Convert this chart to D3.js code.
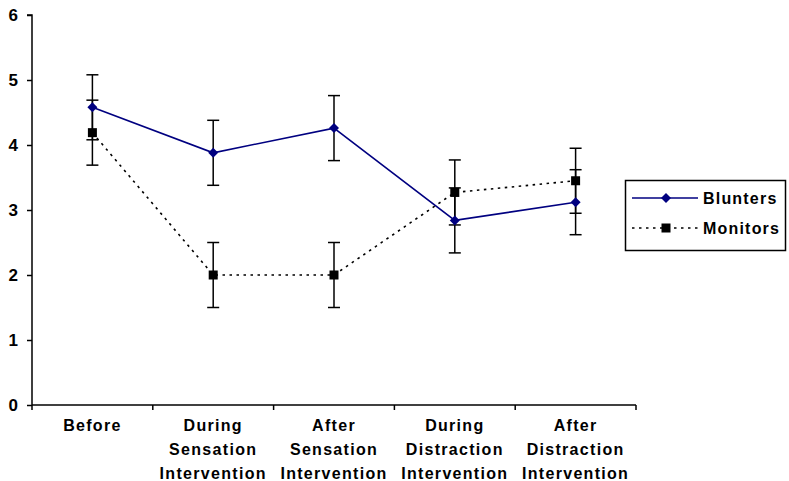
<!DOCTYPE html>
<html><head><meta charset="utf-8">
<script src="https://cdn.jsdelivr.net/npm/d3@7"></script>
<style>body{margin:0;background:#fff;} text{font-family:"Liberation Sans",Arial,sans-serif;font-weight:bold;}</style>
</head><body>
<svg id="c" width="789" height="481"></svg>
<script>
const categories = [["Before"],["During","Sensation","Intervention"],["After","Sensation","Intervention"],["During","Distraction","Intervention"],["After","Distraction","Intervention"]];
const blunters = [4.58, 3.88, 4.26, 2.84, 3.12];
const monitors = [4.19, 2.00, 2.00, 3.27, 3.45];
const errBlunters = [0.5, 0.5, 0.5, 0.5, 0.5];
const errMonitors = [0.5, 0.5, 0.5, 0.5, 0.5];
const yTicks = [0,1,2,3,4,5,6];
const seriesNames = ["Blunters","Monitors"];

(function(){
const svg = d3.select("#c");
const mLeft = 32, mRight = 636, mTop = 15, mBottom = 405;
const idx = categories.map((d,i)=>i);
const x = d3.scaleBand().domain(idx).range([mLeft,mRight]).padding(0);
const xb = d3.scaleLinear().domain([0,categories.length]).range([mLeft,mRight]);
const y = d3.scaleLinear().domain([0,6]).range([mBottom,mTop]);

// y axis
const ya = svg.append("g").attr("transform",`translate(${mLeft},0)`)
  .call(d3.axisLeft(y).tickValues(yTicks).tickSize(5).tickPadding(8).tickFormat(d3.format("d")));
ya.selectAll("text").attr("font-size",17).attr("fill","#000").attr("letter-spacing",1)
  .style("font-family","Liberation Sans, Arial, sans-serif").attr("dy","0.3em");
ya.selectAll("path,line").attr("stroke","#000").attr("stroke-width",1.5);
ya.select(".domain").attr("d",`M-5,${mTop}H0V${mBottom}`);

// x axis
const xa = svg.append("g").attr("transform",`translate(0,${mBottom})`);
xa.append("line").attr("x1",mLeft).attr("x2",mRight).attr("y1",0).attr("y2",0).attr("stroke","#000").attr("stroke-width",1.5);
xa.selectAll(".tk").data(d3.range(categories.length+1)).join("line")
  .attr("x1",d=>xb(d)).attr("x2",d=>xb(d)).attr("y1",0).attr("y2",5).attr("stroke","#000").attr("stroke-width",1.5);
const lab = xa.selectAll(".lab").data(categories).join("text")
  .attr("text-anchor","middle").attr("font-size",16).attr("letter-spacing",1.3).attr("fill","#000")
  .attr("transform",(d,i)=>`translate(${x(i)+x.bandwidth()/2},0)`);
lab.selectAll("tspan").data(d=>d).join("tspan").attr("x",0).attr("y",(d,j)=>26+j*24).text(d=>d);

const cx = i => x(i)+x.bandwidth()/2;

// error bars
function errbars(vals, errs){
  const g = svg.append("g").attr("stroke","#000").attr("stroke-width",1.5);
  vals.forEach((v,i)=>{
    g.append("line").attr("x1",cx(i)).attr("x2",cx(i)).attr("y1",y(v-errs[i])).attr("y2",y(v+errs[i]));
    [v-errs[i], v+errs[i]].forEach(e=>{
      g.append("line").attr("x1",cx(i)-6).attr("x2",cx(i)+6).attr("y1",y(e)).attr("y2",y(e));
    });
  });
}
errbars(blunters, errBlunters);
errbars(monitors, errMonitors);

const line = d3.line().x((d,i)=>cx(i)).y(d=>y(d));
svg.append("path").datum(monitors).attr("d",line).attr("fill","none").attr("stroke","#000").attr("stroke-width",1.6).attr("stroke-dasharray","2.5,4.5");
svg.append("path").datum(blunters).attr("d",line).attr("fill","none").attr("stroke","#000080").attr("stroke-width",1.6);

svg.selectAll(".sq").data(monitors).join("rect").attr("x",(d,i)=>cx(i)-4.5).attr("y",d=>y(d)-4.5).attr("width",9).attr("height",9).attr("fill","#000");
svg.selectAll(".dm").data(blunters).join("path").attr("d",d3.symbol().type(d3.symbolSquare).size(50))
  .attr("transform",(d,i)=>`translate(${cx(i)},${y(d)}) rotate(45)`).attr("fill","#000080");

// legend
const lg = svg.append("g");
lg.append("rect").attr("x",625.5).attr("y",180.5).attr("width",160).attr("height",70).attr("fill","#fff").attr("stroke","#000").attr("stroke-width",1.5);
const ly = [198, 228];
lg.append("line").attr("x1",632).attr("x2",698).attr("y1",ly[0]).attr("y2",ly[0]).attr("stroke","#000080").attr("stroke-width",1.6);
lg.append("path").attr("d",d3.symbol().type(d3.symbolSquare).size(50)).attr("transform",`translate(666,${ly[0]}) rotate(45)`).attr("fill","#000080");
lg.append("line").attr("x1",632).attr("x2",698).attr("y1",ly[1]).attr("y2",ly[1]).attr("stroke","#000").attr("stroke-width",1.6).attr("stroke-dasharray","2.5,4.5");
lg.append("rect").attr("x",666-4.5).attr("y",ly[1]-4.5).attr("width",9).attr("height",9).attr("fill","#000");
lg.selectAll(".lt").data(seriesNames).join("text").attr("x",703).attr("y",(d,i)=>ly[i]+6).attr("font-size",16).attr("letter-spacing",1.2).attr("fill","#000").text(d=>d);
})();
</script>
</body></html>
